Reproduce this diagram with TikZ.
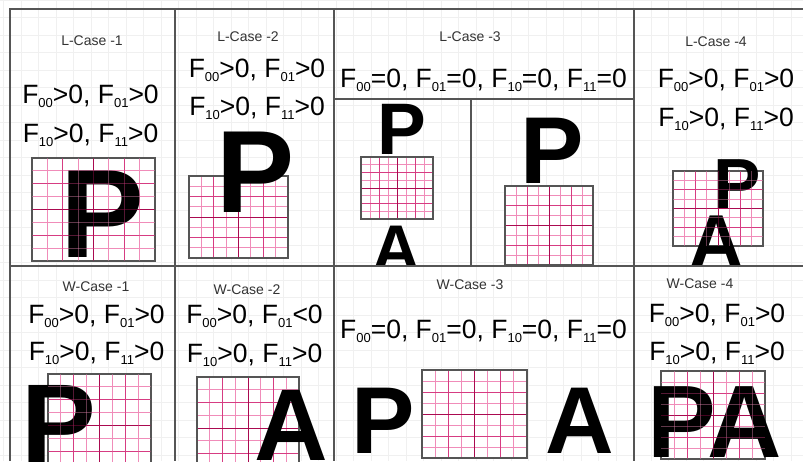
\documentclass[tikz,border=0pt]{standalone}
\usepackage{fontspec}
\setmainfont{Liberation Sans}

\definecolor{pinkminor}{RGB}{240,140,185}
\definecolor{pinkmid}{RGB}{214,60,130}
\definecolor{pinkmajor}{RGB}{170,10,80}
\definecolor{paneline}{RGB}{85,85,85}
\definecolor{bggrid}{RGB}{240,240,240}

\tikzset{
  panel/.style={draw=paneline, line width=1.4pt},
  gridbox/.style={draw=paneline, line width=1.1pt},
  caselabel/.style={font=\fontsize{14}{14}\selectfont, text=black!80, inner sep=0pt},
  fline/.style={font=\fontsize{26.5}{26.5}\selectfont, inner sep=0pt, anchor=base},
  bigletter/.style={font=\bfseries\fontsize{#1}{#1}\selectfont, inner sep=0pt, anchor=base},
  overlay lines/.style={opacity=0.4},
}

% F with a small lowered index
\newcommand{\Fsub}[1]{F\raisebox{-0.3ex}{\fontsize{13}{13}\selectfont #1}}

% pink lines of an 8x8 grid: x1,y1,x2,y2
\newcommand{\gridlines}[4]{%
  \foreach \i in {1,3,5,7} {
    \draw[color=pinkminor, line width=1pt] ({#1+(#3-#1)*\i/8},#2) -- ({#1+(#3-#1)*\i/8},#4);
    \draw[color=pinkminor, line width=1pt] (#1,{#2+(#4-#2)*\i/8}) -- (#3,{#2+(#4-#2)*\i/8});
  }
  \foreach \i in {2,6} {
    \draw[color=pinkmid, line width=1pt] ({#1+(#3-#1)*\i/8},#2) -- ({#1+(#3-#1)*\i/8},#4);
    \draw[color=pinkmid, line width=1pt] (#1,{#2+(#4-#2)*\i/8}) -- (#3,{#2+(#4-#2)*\i/8});
  }
  \draw[color=pinkmajor, line width=1pt] ({(#1+#3)/2},#2) -- ({(#1+#3)/2},#4);
  \draw[color=pinkmajor, line width=1pt] (#1,{(#2+#4)/2}) -- (#3,{(#2+#4)/2});
}
\newcommand{\cellgrid}[4]{%
  \fill[white] (#1,#2) rectangle (#3,#4);
  \gridlines{#1}{#2}{#3}{#4}
  \draw[gridbox] (#1,#2) rectangle (#3,#4);
}

\begin{document}
\begin{tikzpicture}[x=1pt, y=-1pt]
  \useasboundingbox (0,0) rectangle (803,461);
  \fill[white] (0,0) rectangle (803,461);

  % background grid
  \foreach \x in {3.5,21,...,803} \draw[bggrid, line width=0.6pt] (\x,0) -- (\x,461);
  \foreach \y in {0,17.5,...,461} \draw[bggrid, line width=0.6pt] (0,\y) -- (803,\y);

  % L-Case -1
  \node[caselabel] (l1) at (92,41) {L-Case -1};
  \node[fline] (l1a) at (90.5,103) {\Fsub{00}>0, \Fsub{01}>0};
  \node[fline] (l1b) at (90.5,142) {\Fsub{10}>0, \Fsub{11}>0};
  \cellgrid{32}{158}{155}{261}
  \node[bigletter=126] (l1p) at (103,257) {P};
  \begin{scope}[overlay lines] \gridlines{32}{158}{155}{261} \end{scope}

  % L-Case -2
  \node[caselabel] (l2) at (248,37) {L-Case -2};
  \node[fline] (l2a) at (257,77) {\Fsub{00}>0, \Fsub{01}>0};
  \node[fline] (l2b) at (257,115) {\Fsub{10}>0, \Fsub{11}>0};
  \cellgrid{189}{176}{288}{258}
  \node[bigletter=117] (l2p) at (255.5,212) {P};

  % L-Case -3
  \node[caselabel] (l3) at (470,37) {L-Case -3};
  \node[fline] (l3a) at (483.5,87) {\Fsub{00}=0, \Fsub{01}=0, \Fsub{10}=0, \Fsub{11}=0};
  \cellgrid{361}{157}{433}{219}
  \node[bigletter=73] (l3p) at (402,154) {P};
  \begin{scope}
    \clip (334,99) rectangle (471,266);
    \node[bigletter=66] (l3x) at (396,271) {A};
  \end{scope}
  \cellgrid{505}{186}{593}{265}
  \node[bigletter=95] (l3q) at (552.5,183) {P};

  % L-Case -4
  \node[caselabel] (l4) at (716,42) {L-Case -4};
  \node[fline] (l4a) at (726,87) {\Fsub{00}>0, \Fsub{01}>0};
  \node[fline] (l4b) at (726,126) {\Fsub{10}>0, \Fsub{11}>0};
  \cellgrid{673}{171}{763}{246}
  \node[bigletter=71] (l4p) at (737,208) {P};
  \begin{scope}
    \clip (634,9) rectangle (803,266);
    \node[bigletter=75] (l4x) at (717,267) {A};
  \end{scope}
  \begin{scope}[overlay lines] \gridlines{673}{171}{763}{246} \end{scope}

  % W-Case -1
  \node[caselabel] (w1) at (96,287) {W-Case -1};
  \node[fline] (w1a) at (96.5,323) {\Fsub{00}>0, \Fsub{01}>0};
  \node[fline] (w1b) at (96.5,360) {\Fsub{10}>0, \Fsub{11}>0};
  \cellgrid{48}{374}{151}{477}
  \node[bigletter=112] (w1p) at (59,462) {P};
  \begin{scope}[overlay lines] \gridlines{48}{374}{151}{477} \end{scope}

  % W-Case -2
  \node[caselabel] (w2) at (247,290) {W-Case -2};
  \node[fline] (w2a) at (254.5,323) {\Fsub{00}>0, \Fsub{01}<0};
  \node[fline] (w2b) at (254.5,362) {\Fsub{10}>0, \Fsub{11}>0};
  \cellgrid{197}{377}{299}{479}
  \node[bigletter=102] (w2x) at (291,460) {A};

  % W-Case -3
  \node[caselabel] (w3) at (470,285) {W-Case -3};
  \node[fline] (w3a) at (483.5,338) {\Fsub{00}=0, \Fsub{01}=0, \Fsub{10}=0, \Fsub{11}=0};
  \node[bigletter=95] (w3p) at (383.5,453) {P};
  \cellgrid{422}{370}{527}{458}
  \node[bigletter=95] (w3x) at (580,453) {A};

  % W-Case -4
  \node[caselabel] (w4) at (700,284) {W-Case -4};
  \node[fline] (w4a) at (717,322) {\Fsub{00}>0, \Fsub{01}>0};
  \node[fline] (w4b) at (717,360) {\Fsub{10}>0, \Fsub{11}>0};
  \cellgrid{661}{371}{765}{459}
  \node[bigletter=103] (w4p) at (681.5,457) {P};
  \node[bigletter=103] (w4x) at (745,457) {A};
  \begin{scope}[overlay lines] \gridlines{661}{371}{765}{459} \end{scope}

  % panel lines
  \draw[panel] (803,9) -- (10,9) -- (10,461);
  \draw[panel] (10,266) -- (803,266);
  \foreach \x in {175,334,634} \draw[panel] (\x,9) -- (\x,461);
  \draw[panel] (334,99) -- (634,99);
  \draw[panel] (471,99) -- (471,266);
\end{tikzpicture}
\end{document}
